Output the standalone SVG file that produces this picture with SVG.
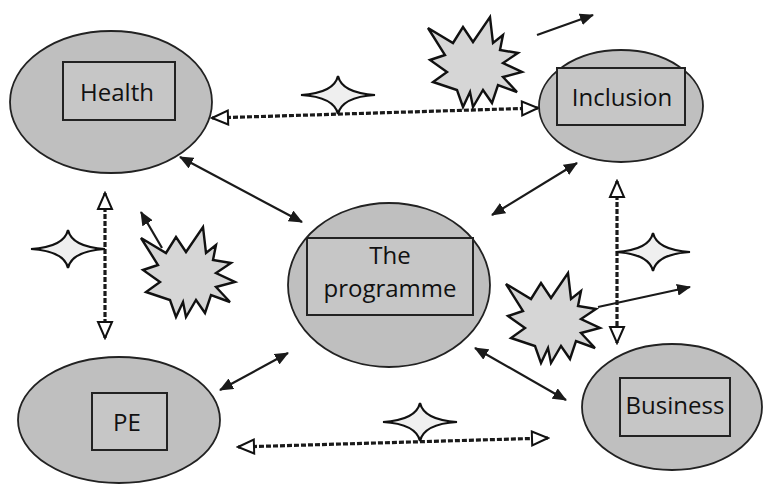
<svg xmlns="http://www.w3.org/2000/svg" width="763" height="484" viewBox="0 0 763 484">
<defs>
<style>
.node ellipse{fill:#bfbfbf;stroke:#222;stroke-width:1.8}
.node rect{fill:#c6c6c6;stroke:#222;stroke-width:2}
.node text{font-family:"Open Sans","Liberation Sans",sans-serif;font-size:24px;fill:#111;text-anchor:middle}
.solid{stroke:#1a1a1a;stroke-width:2.2;fill:none}
.dot{stroke:#1a1a1a;stroke-width:3.2;stroke-dasharray:5 2;fill:none}
.burst{fill:#d6d6d6;stroke:#111;stroke-width:2.4;stroke-linejoin:miter}
.star{fill:#efefef;stroke:#111;stroke-width:2.2;stroke-linejoin:miter}
</style>
<marker id="hs" viewBox="0 0 14 12" refX="13" refY="6" markerWidth="14" markerHeight="12" markerUnits="userSpaceOnUse" orient="auto-start-reverse">
<path d="M0,0 L14,6 L0,12 Z" fill="#1a1a1a"/>
</marker>
<marker id="ho" viewBox="0 0 20 18" refX="18" refY="9" markerWidth="20" markerHeight="18" markerUnits="userSpaceOnUse" orient="auto-start-reverse">
<path d="M2,2 L18,9 L2,16 Z" fill="#fff" stroke="#111" stroke-width="2"/>
</marker>
<polygon id="burstShape" class="burst" points="-47,-34 -22,-19 -12,-35 -2,-20 15,-45 18,-19 28,-27 25,-12 43,-9 28,1 47,10 28,15 42,30 23,23 17,41 8,28 -2,45 -5,30 -12,45 -18,28 -42,20 -28,10 -45,-2 -30,-7"/>
<path id="starShape" class="star" d="M-37,0 Q-4,-2 0,-19 Q4,-2 37,0 Q4,2 0,19 Q-4,2 -37,0 Z"/>
</defs>
<rect width="763" height="484" fill="#fff"/>

<g id="connectors">
<line class="dot" x1="212" y1="118" x2="538" y2="108" marker-start="url(#ho)" marker-end="url(#ho)"/>
<line class="dot" x1="105" y1="193" x2="105" y2="338" marker-start="url(#ho)" marker-end="url(#ho)"/>
<line class="dot" x1="617" y1="181" x2="617" y2="343" marker-start="url(#ho)" marker-end="url(#ho)"/>
<line class="dot" x1="238" y1="447" x2="548" y2="438" marker-start="url(#ho)" marker-end="url(#ho)"/>
<line class="solid" x1="180" y1="157" x2="302" y2="222" marker-start="url(#hs)" marker-end="url(#hs)"/>
<line class="solid" x1="492" y1="215" x2="577" y2="163" marker-start="url(#hs)" marker-end="url(#hs)"/>
<line class="solid" x1="220" y1="390" x2="288" y2="353" marker-start="url(#hs)" marker-end="url(#hs)"/>
<line class="solid" x1="475" y1="348" x2="566" y2="400" marker-start="url(#hs)" marker-end="url(#hs)"/>
<line class="solid" x1="537" y1="35" x2="593" y2="15" marker-end="url(#hs)"/>
<line class="solid" x1="598" y1="307" x2="690" y2="287" marker-end="url(#hs)"/>
<line class="solid" x1="162" y1="248" x2="141" y2="212" marker-end="url(#hs)"/>
</g>

<g id="bursts">
<use href="#burstShape" transform="translate(475,62)"/>
<use href="#burstShape" transform="translate(188,272)"/>
<use href="#burstShape" transform="translate(553,318)"/>
</g>

<g id="stars">
<use href="#starShape" transform="translate(338,95)"/>
<use href="#starShape" transform="translate(68,249)"/>
<use href="#starShape" transform="translate(653,252)"/>
<use href="#starShape" transform="translate(420,422)"/>
</g>

<g id="health" class="node">
<ellipse cx="111" cy="102" rx="101" ry="71"/>
<rect x="63" y="62" width="112" height="58"/>
<text x="117" y="101">Health</text>
</g>
<g id="inclusion" class="node">
<ellipse cx="621" cy="106" rx="82" ry="56"/>
<rect x="557" y="68" width="128" height="57"/>
<text x="622" y="106">Inclusion</text>
</g>
<g id="programme" class="node">
<ellipse cx="389" cy="285" rx="101" ry="82"/>
<rect x="307" y="238" width="166" height="77"/>
<text x="390" y="264">The</text>
<text x="390" y="297">programme</text>
</g>
<g id="pe" class="node">
<ellipse cx="119" cy="420" rx="101" ry="63"/>
<rect x="92" y="393" width="75" height="57"/>
<text x="127" y="431">PE</text>
</g>
<g id="business" class="node">
<ellipse cx="672" cy="407" rx="90" ry="63"/>
<rect x="620" y="378" width="110" height="58"/>
<text x="675" y="414">Business</text>
</g>
</svg>
